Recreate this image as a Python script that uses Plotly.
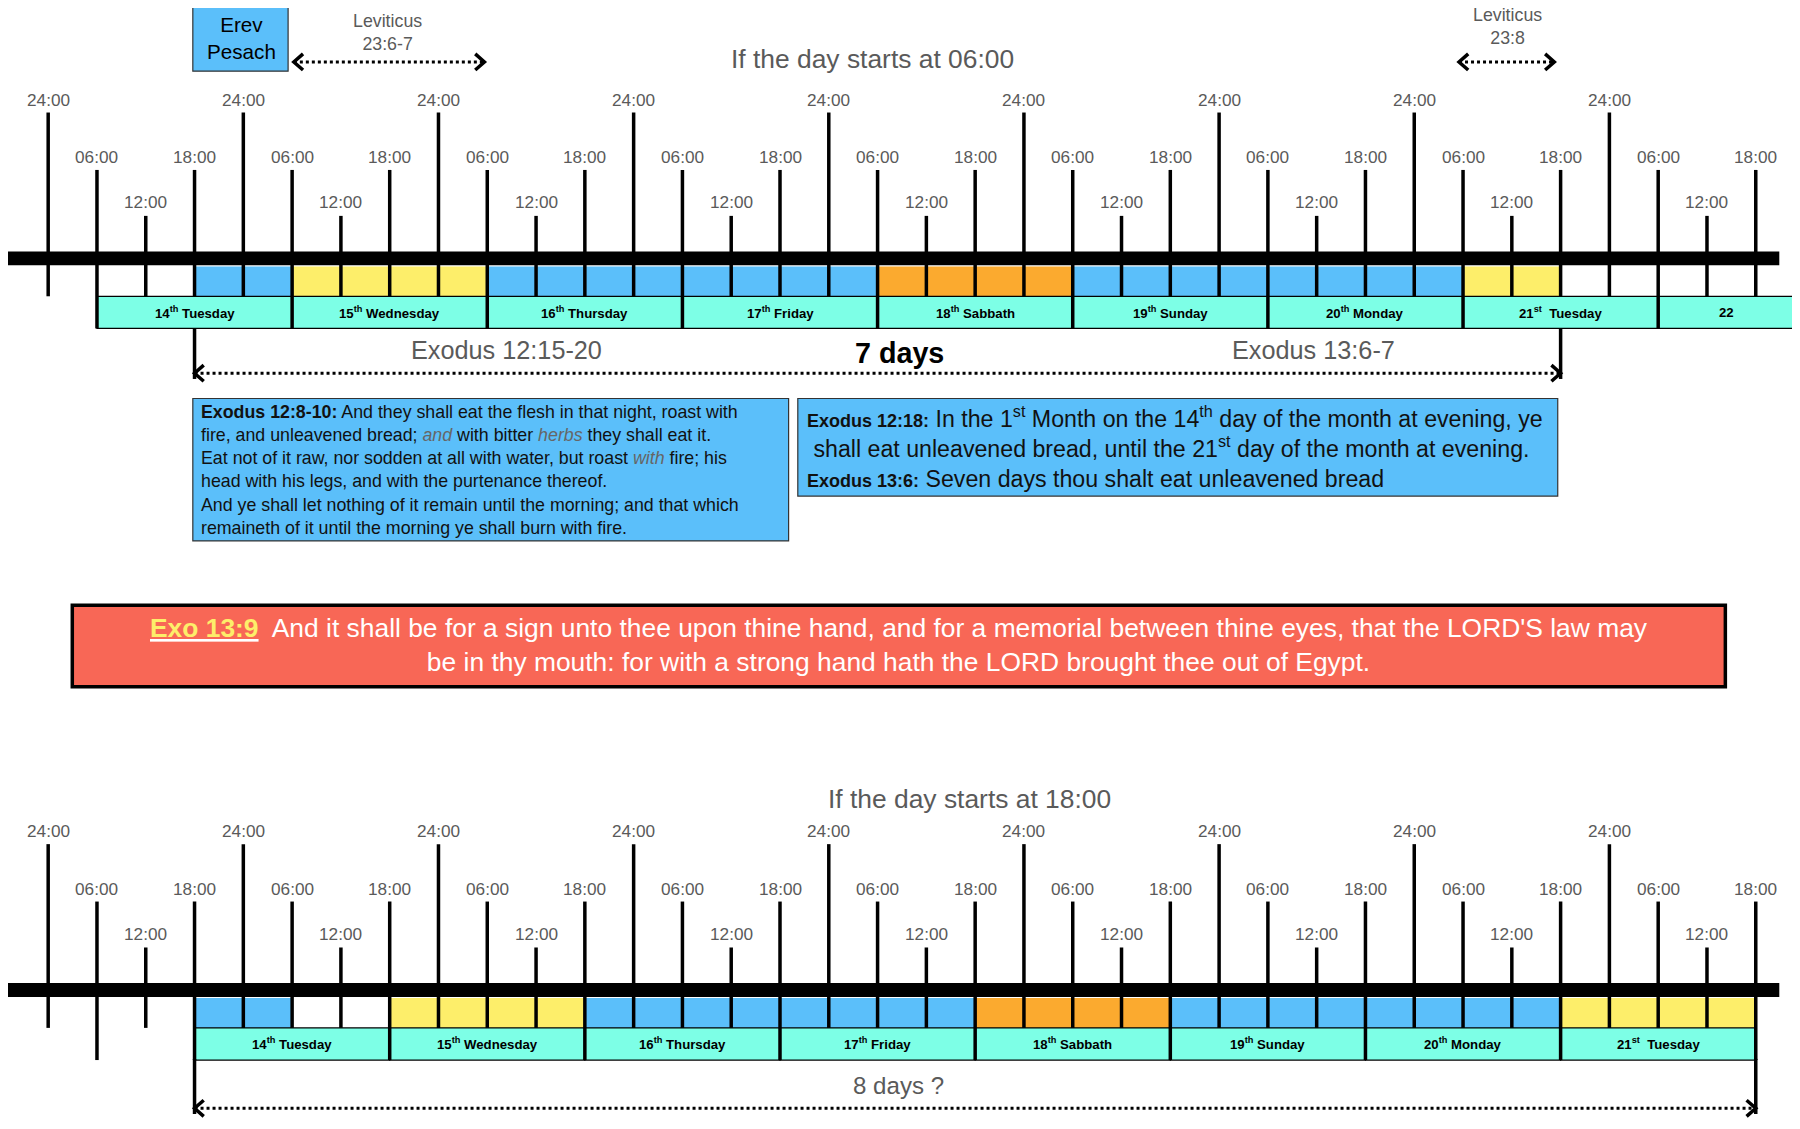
import plotly.graph_objects as go

# timeline data (hours counted from the first midnight on the chart)
hours_24 = [0, 24, 48, 72, 96, 120, 144, 168, 192]
hours_06 = [6, 30, 54, 78, 102, 126, 150, 174, 198]
hours_12 = [12, 36, 60, 84, 108, 132, 156, 180, 204]
hours_18 = [18, 42, 66, 90, 114, 138, 162, 186, 210]

day_names = ["14<sup>th</sup> Tuesday", "15<sup>th</sup> Wednesday", "16<sup>th</sup> Thursday",
             "17<sup>th</sup> Friday", "18<sup>th</sup> Sabbath", "19<sup>th</sup> Sunday",
             "20<sup>th</sup> Monday", "21<sup>st</sup>  Tuesday", "22"]
top_day_start = [6, 30, 54, 78, 102, 126, 150, 174, 198]
top_day_end = [30, 54, 78, 102, 126, 150, 174, 198, 214.7]
bot_day_start = [18, 42, 66, 90, 114, 138, 162, 186]
bot_day_end = [42, 66, 90, 114, 138, 162, 186, 210]

# colored 6-hour cells: (start, end, colour key)
top_cells = [(18, 30, "b"), (30, 54, "y"), (54, 102, "b"), (102, 126, "o"), (126, 174, "b"), (174, 186, "y")]
bot_cells = [(18, 30, "b"), (42, 66, "y"), (66, 114, "b"), (114, 138, "o"), (138, 186, "b"), (186, 210, "y")]

COL = {"b": "#5BBFFA", "y": "#FDEE6A", "o": "#FBAA2F"}
TEAL = "#7DFFE6"
GRAY = "#5a5a5a"
FONT = "Liberation Sans, Arial"
PXH = 170 / 24.0   # shown pixels per hour
S = 1800 / 1568.0  # font scale


def h(px):
    return (px - 42) / PXH


shapes = []
ann = []


def vline(x, y0, y1, w=3.5):
    shapes.append(dict(type="line", x0=x, x1=x, y0=y0, y1=y1, line=dict(color="black", width=w)))


def rect(x0, x1, y0, y1, fill, lw=0, lc="black"):
    shapes.append(dict(type="rect", x0=x0, x1=x1, y0=y0, y1=y1, fillcolor=fill,
                       line=dict(color=lc, width=lw), layer="above"))


def text(x, y, t, size, color=GRAY, xanchor="center", align="center", yanchor="middle"):
    ann.append(dict(x=x, y=y, text=t, showarrow=False, xanchor=xanchor, yanchor=yanchor, align=align,
                    font=dict(family=FONT, size=size * S, color=color)))


def darrow(x0, x1, y, left=True, right=True):
    shapes.append(dict(type="line", x0=x0, x1=x1, y0=y, y1=y, line=dict(color="black", width=3, dash="dot")))
    d = 8 / PXH
    if left:
        shapes.append(dict(type="path", path=f"M {x0+d} {y-7} L {x0} {y} L {x0+d} {y+7}",
                           line=dict(color="black", width=3.5)))
    if right:
        shapes.append(dict(type="path", path=f"M {x1-d} {y-7} L {x1} {y} L {x1-d} {y+7}",
                           line=dict(color="black", width=3.5)))


def timeline(off, cells, dstart, dend):
    ax = 225 + off
    cb = 258 + off
    db = 286 + off
    for a, b, c in cells:
        rect(a, b, 232 + off, cb, COL[c])
    for a, b, name in zip(dstart, dend, day_names):
        rect(a, b, cb, db, TEAL, lw=1.2)
        text((a + b) / 2, (cb + db) / 2, f"<b>{name}</b>", 11.5, color="black")
    rect(h(6), h(1550), ax - 6, ax + 6, "black")
    for t in hours_24:
        vline(t, 98 + off, cb)
        text(t, 87 + off, "24:00", 15)
    for t in hours_06:
        end = db if (t in dstart or t in dend or t == 6) else cb
        vline(t, 148 + off, end)
        text(t, 137 + off, "06:00", 15)
    for t in hours_12:
        vline(t, 188 + off, cb)
        text(t, 176 + off, "12:00", 15)
    for t in hours_18:
        end = db if (t in dstart or t in dend) else cb
        vline(t, 148 + off, end)
        text(t, 137 + off, "18:00", 15)


timeline(0, top_cells, top_day_start, top_day_end)
timeline(637, bot_cells, bot_day_start, bot_day_end)

# span markers
vline(18, 286, 330)
vline(186, 286, 330)
vline(18, 922, 970)
vline(210, 922, 970)
darrow(18, 186, 325)
darrow(18, 210, 965)

text(h(760), 51, "If the day starts at 06:00", 23)
text(h(845), 696, "If the day starts at 18:00", 23)
text(h(441), 305, "Exodus 12:15-20", 22)
text(h(784), 307, "<b>7 days</b>", 25, color="black")
text(h(1144), 305, "Exodus 13:6-7", 22)
text(h(783), 945, "8 days ?", 21)

# Erev Pesach
rect(h(168), h(251), 4, 62, COL["b"], lw=1.2, lc="#333")
text(h(210), 33, "Erev<br>Pesach", 18, color="black")
text(h(338), 28, "Leviticus<br>23:6-7", 15.5)
darrow(h(256), h(422), 54)
text(h(1313), 23, "Leviticus<br>23:8", 15.5)
darrow(h(1271), h(1354), 54)

# verse boxes
rect(h(168), h(687), 347, 471, COL["b"], lw=1.2, lc="#333")
left_txt = ("<b>Exodus 12:8-10:</b> And they shall eat the flesh in that night, roast with<br>"
            "fire, and unleavened bread; <i><span style='color:#666'>and</span></i> with bitter "
            "<i><span style='color:#666'>herbs</span></i> they shall eat it.<br>"
            "Eat not of it raw, nor sodden at all with water, but roast "
            "<i><span style='color:#666'>with</span></i> fire; his<br>"
            "head with his legs, and with the purtenance thereof.<br>"
            "And ye shall let nothing of it remain until the morning; and that which<br>"
            "remaineth of it until the morning ye shall burn with fire.")
text(h(173), 409, left_txt, 15.5, color="#111", xanchor="left", align="left")

rect(h(695), h(1357), 347, 432, COL["b"], lw=1.2, lc="#333")
right_txt = ("<span style='font-size:18px'><b>Exodus 12:18:</b></span> In the 1<sup>st</sup> Month on the "
             "14<sup>th</sup> day of the month at evening, ye<br>"
             " shall eat unleavened bread, until the 21<sup>st</sup> day of the month at evening.<br>"
             "<span style='font-size:18px'><b>Exodus 13:6:</b></span> Seven days thou shalt eat unleavened bread")
text(h(701), 389, right_txt, 20.2, color="#111", xanchor="left", align="left")

# red banner
rect(h(63), h(1503), 527, 598, "#F86756", lw=3.5)
banner = ("<b><u><span style='color:#FDEE6A'>Exo 13:9</span></u></b>  And it shall be for a sign unto thee upon "
          "thine hand, and for a memorial between thine eyes, that the LORD'S law may<br>"
          "be in thy mouth: for with a strong hand hath the LORD brought thee out of Egypt.")
text(h(783), 562, banner, 23, color="white")

fig = go.Figure()
# ranges offset by the page's 8px body margin
fig.update_layout(
    width=1800, height=1129, margin=dict(l=0, r=0, t=0, b=0),
    plot_bgcolor="white", paper_bgcolor="white",
    xaxis=dict(range=[h(7), h(1575)], visible=False, fixedrange=True),
    yaxis=dict(range=[990, 7], visible=False, fixedrange=True),
    shapes=shapes, annotations=ann, showlegend=False,
)
fig.write_html("out.html")
